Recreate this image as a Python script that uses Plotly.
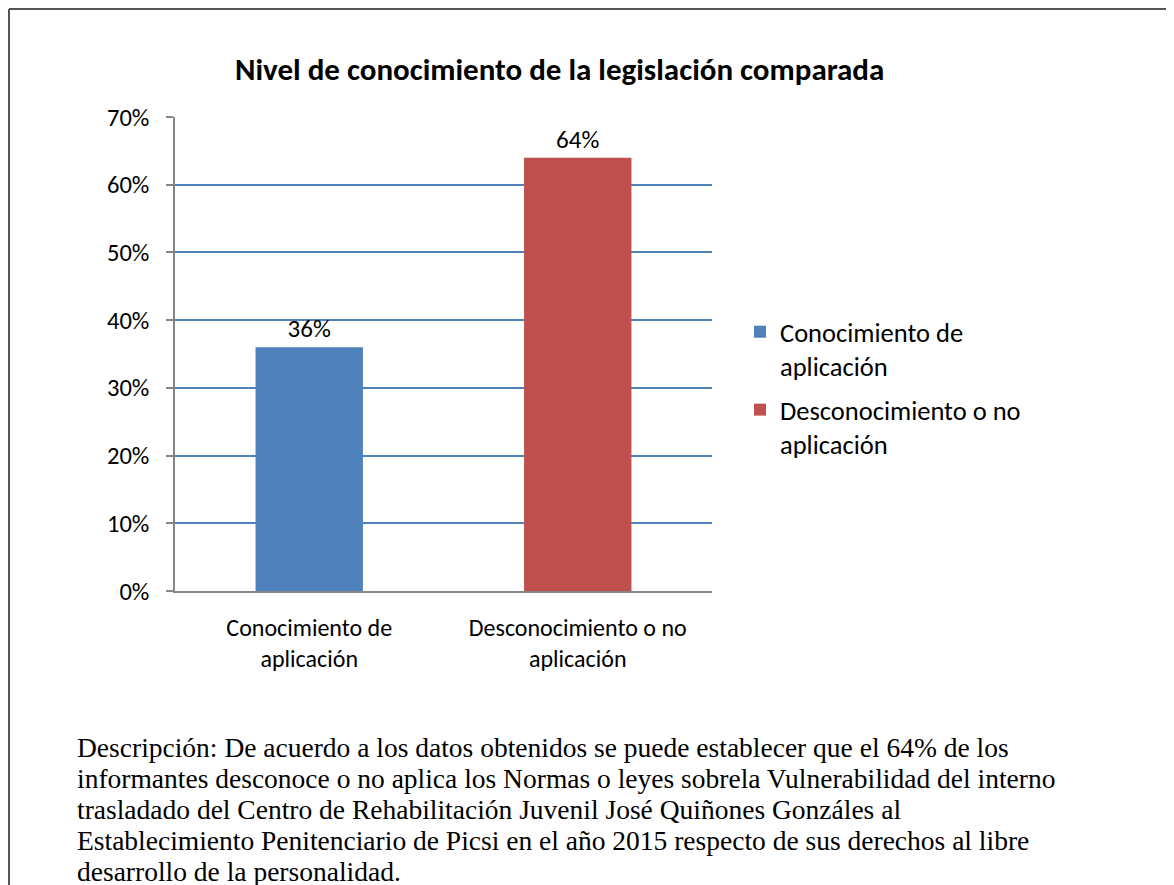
import plotly.graph_objects as go

# ── Datos ──────────────────────────────────────────────────────────────
categorias = ["Conocimiento de<br>aplicación", "Desconocimiento o no<br>aplicación"]
valores = [0.36, 0.64]
colores = ["#4F81BD", "#C0504D"]

titulo = "Nivel de conocimiento de la legislación comparada"
descripcion = [
    "Descripción: De acuerdo a los datos obtenidos se puede establecer que el 64% de los",
    "informantes desconoce o no aplica los Normas o leyes sobrela Vulnerabilidad del interno",
    "trasladado del Centro de Rehabilitación Juvenil José Quiñones Gonzáles al",
    "Establecimiento Penitenciario de Picsi en el año 2015 respecto de sus derechos al libre",
    "desarrollo de la personalidad.",
]

FUENTE = "Calibri, Carlito, Lato, sans-serif"
SERIF = "Times New Roman, Liberation Serif, serif"
GRIS_EJE = "#868686"
AZUL_GRID = "#4F81BD"

# la página añade 8 px de margen al cuerpo
OFF = 8
W, H = 1174, 885
L, T = 175 - OFF, 117 - OFF
R = W - (712 - OFF)
B = H - (591 - OFF)
pw, ph = W - L - R, H - T - B


def px_x(x):
    return (x - OFF - L) / pw


def px_y(y):
    return (H - B - (y - OFF)) / ph


fig = go.Figure()
for i, (cat, val, col) in enumerate(zip(categorias, valores, colores)):
    fig.add_trace(go.Bar(
        x=[cat], y=[val],
        name=cat,
        marker=dict(color=col, line=dict(width=0)),
        width=0.4,
        texttemplate="%{y:.0%}",
        textposition="outside",
        textfont=dict(size=25, color="#000000", family=FUENTE),
        cliponaxis=False,
        legendgroup=f"g{i}",
    ))

anotaciones = [
    dict(text=f"<b>{titulo}</b>", xref="paper", yref="paper",
         x=px_x(559), y=px_y(69), xanchor="center", yanchor="middle",
         showarrow=False, font=dict(size=31, family=FUENTE, color="#000000")),
]
for k, linea in enumerate(descripcion):
    anotaciones.append(dict(
        text=linea, xref="paper", yref="paper",
        x=px_x(75), y=px_y(747 + 31 * k), xanchor="left", yanchor="middle",
        align="left", showarrow=False,
        font=dict(size=27.5, family=SERIF, color="#000000"),
    ))

fig.update_layout(
    width=W, height=H,
    margin=dict(l=L, r=R, t=T, b=B),
    paper_bgcolor="white",
    plot_bgcolor="white",
    font=dict(family=FUENTE, color="#000000", size=24),
    barmode="overlay",
    showlegend=True,
    legend=dict(
        x=732 / W, xref="container", xanchor="left",
        y=1 - 300 / H, yref="container", yanchor="top",
        font=dict(size=26.5, family=FUENTE),
        traceorder="grouped",
        tracegroupgap=6,
        itemwidth=30,
        valign="top",
        bgcolor="rgba(0,0,0,0)",
    ),
    xaxis=dict(
        showgrid=False,
        showline=True, linecolor=GRIS_EJE, linewidth=1.5,
        ticks="", ticklabelstandoff=14,
        tickfont=dict(size=24, family=FUENTE),
        fixedrange=True,
    ),
    yaxis=dict(
        range=[0, 0.7],
        dtick=0.1,
        tickformat=".0%",
        showgrid=True, gridcolor=AZUL_GRID, gridwidth=1.5,
        showline=True, linecolor=GRIS_EJE, linewidth=1.5,
        ticks="outside", ticklen=7, tickcolor=GRIS_EJE, tickwidth=1.5,
        ticklabelstandoff=12,
        tickfont=dict(size=24.5, family=FUENTE),
        zeroline=False,
        fixedrange=True,
    ),
    annotations=anotaciones,
    shapes=[
        dict(type="line", xref="paper", yref="paper",
             x0=px_x(OFF + 1), x1=px_x(W + 20), y0=px_y(OFF + 1), y1=px_y(OFF + 1),
             line=dict(color="#555555", width=2)),
        dict(type="line", xref="paper", yref="paper",
             x0=px_x(OFF + 1), x1=px_x(OFF + 1), y0=px_y(OFF + 1), y1=px_y(H + 20),
             line=dict(color="#555555", width=2)),
    ],
)

fig.write_html("out.html")
